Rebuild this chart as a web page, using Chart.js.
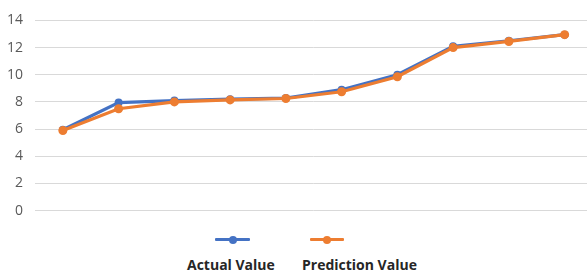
<!DOCTYPE html>
<html>
<head>
<meta charset="utf-8">
<script src="https://cdn.jsdelivr.net/npm/chart.js@4.4.1/dist/chart.umd.min.js"></script>
<style>
  html, body { margin: 0; padding: 0; background: #fff; overflow: hidden; }
  #wrap { position: relative; width: 587px; height: 273px; overflow: hidden; }
  #chartBox { position: absolute; left: 0; top: 0; width: 597px; height: 231px; }
  .legend-line { position: absolute; height: 3px; border-radius: 1px; }
  .legend-dot { position: absolute; width: 8px; height: 8px; border-radius: 50%; }
  .legend-text { position: absolute; white-space: nowrap; font: bold 14px "Open Sans", sans-serif; color: #262626; }
</style>
</head>
<body>
<div id="wrap">
  <div id="chartBox"><canvas id="chart"></canvas></div>
  <div id="legend"></div>
</div>
<script>
const categories = ['1', '2', '3', '4', '5', '6', '7', '8', '9', '10'];
const actualValues = [5.95, 7.95, 8.1, 8.2, 8.28, 8.9, 10.0, 12.1, 12.5, 12.95];
const predictionValues = [5.9, 7.5, 8.0, 8.15, 8.25, 8.75, 9.85, 12.0, 12.45, 12.95];
const seriesNames = ['Actual Value', 'Prediction Value'];
const seriesColors = ['#4472C4', '#ED7D31'];

const ctx = document.getElementById('chart');

const chart = new Chart(ctx, {
  type: 'line',
  data: {
    labels: categories,
    datasets: [{
      label: seriesNames[0],
      data: actualValues,
      borderColor: seriesColors[0],
      backgroundColor: seriesColors[0],
      borderWidth: 3.2,
      pointRadius: 4,
      pointBorderWidth: 0,
      tension: 0,
      order: 1
    }, {
      label: seriesNames[1],
      data: predictionValues,
      borderColor: seriesColors[1],
      backgroundColor: seriesColors[1],
      borderWidth: 3.2,
      pointRadius: 4.5,
      pointBorderWidth: 0,
      tension: 0,
      order: 0
    }]
  },
  options: {
    responsive: true,
    maintainAspectRatio: false,
    animation: false,
    layout: { padding: { top: 11, bottom: 6, right: 0, left: 0 } },
    plugins: {
      legend: { display: false },
      tooltip: { enabled: false }
    },
    scales: {
      x: {
        display: false,
        offset: true
      },
      y: {
        min: 0,
        max: 14,
        ticks: {
          stepSize: 2,
          padding: 12,
          color: '#595959',
          font: { family: 'Open Sans', size: 14 }
        },
        grid: {
          color: '#d9d9d9',
          lineWidth: 1,
          drawTicks: false
        },
        border: { display: false },
        afterFit: (scale) => { scale.width = 35; }
      }
    }
  }
});

// legend: marker above the label, as in the original
const legendPos = [
  { line: [215, 250], lineY: 239, textX: 187, textY: 255 },
  { line: [310, 344], lineY: 239, textX: 302, textY: 255 }
];
const legendEl = document.getElementById('legend');
chart.data.datasets.forEach((ds, i) => {
  const p = legendPos[i];
  const line = document.createElement('div');
  line.className = 'legend-line';
  line.style.left = p.line[0] + 'px';
  line.style.width = (p.line[1] - p.line[0]) + 'px';
  line.style.top = (p.lineY - 1) + 'px';
  line.style.background = ds.borderColor;
  const dot = document.createElement('div');
  dot.className = 'legend-dot';
  dot.style.left = ((p.line[0] + p.line[1]) / 2 - 4) + 'px';
  dot.style.top = (p.lineY - 3.5) + 'px';
  dot.style.background = ds.borderColor;
  const text = document.createElement('div');
  text.className = 'legend-text';
  text.style.left = p.textX + 'px';
  text.style.top = p.textY + 'px';
  text.textContent = ds.label;
  legendEl.appendChild(line);
  legendEl.appendChild(dot);
  legendEl.appendChild(text);
});
</script>
</body>
</html>
